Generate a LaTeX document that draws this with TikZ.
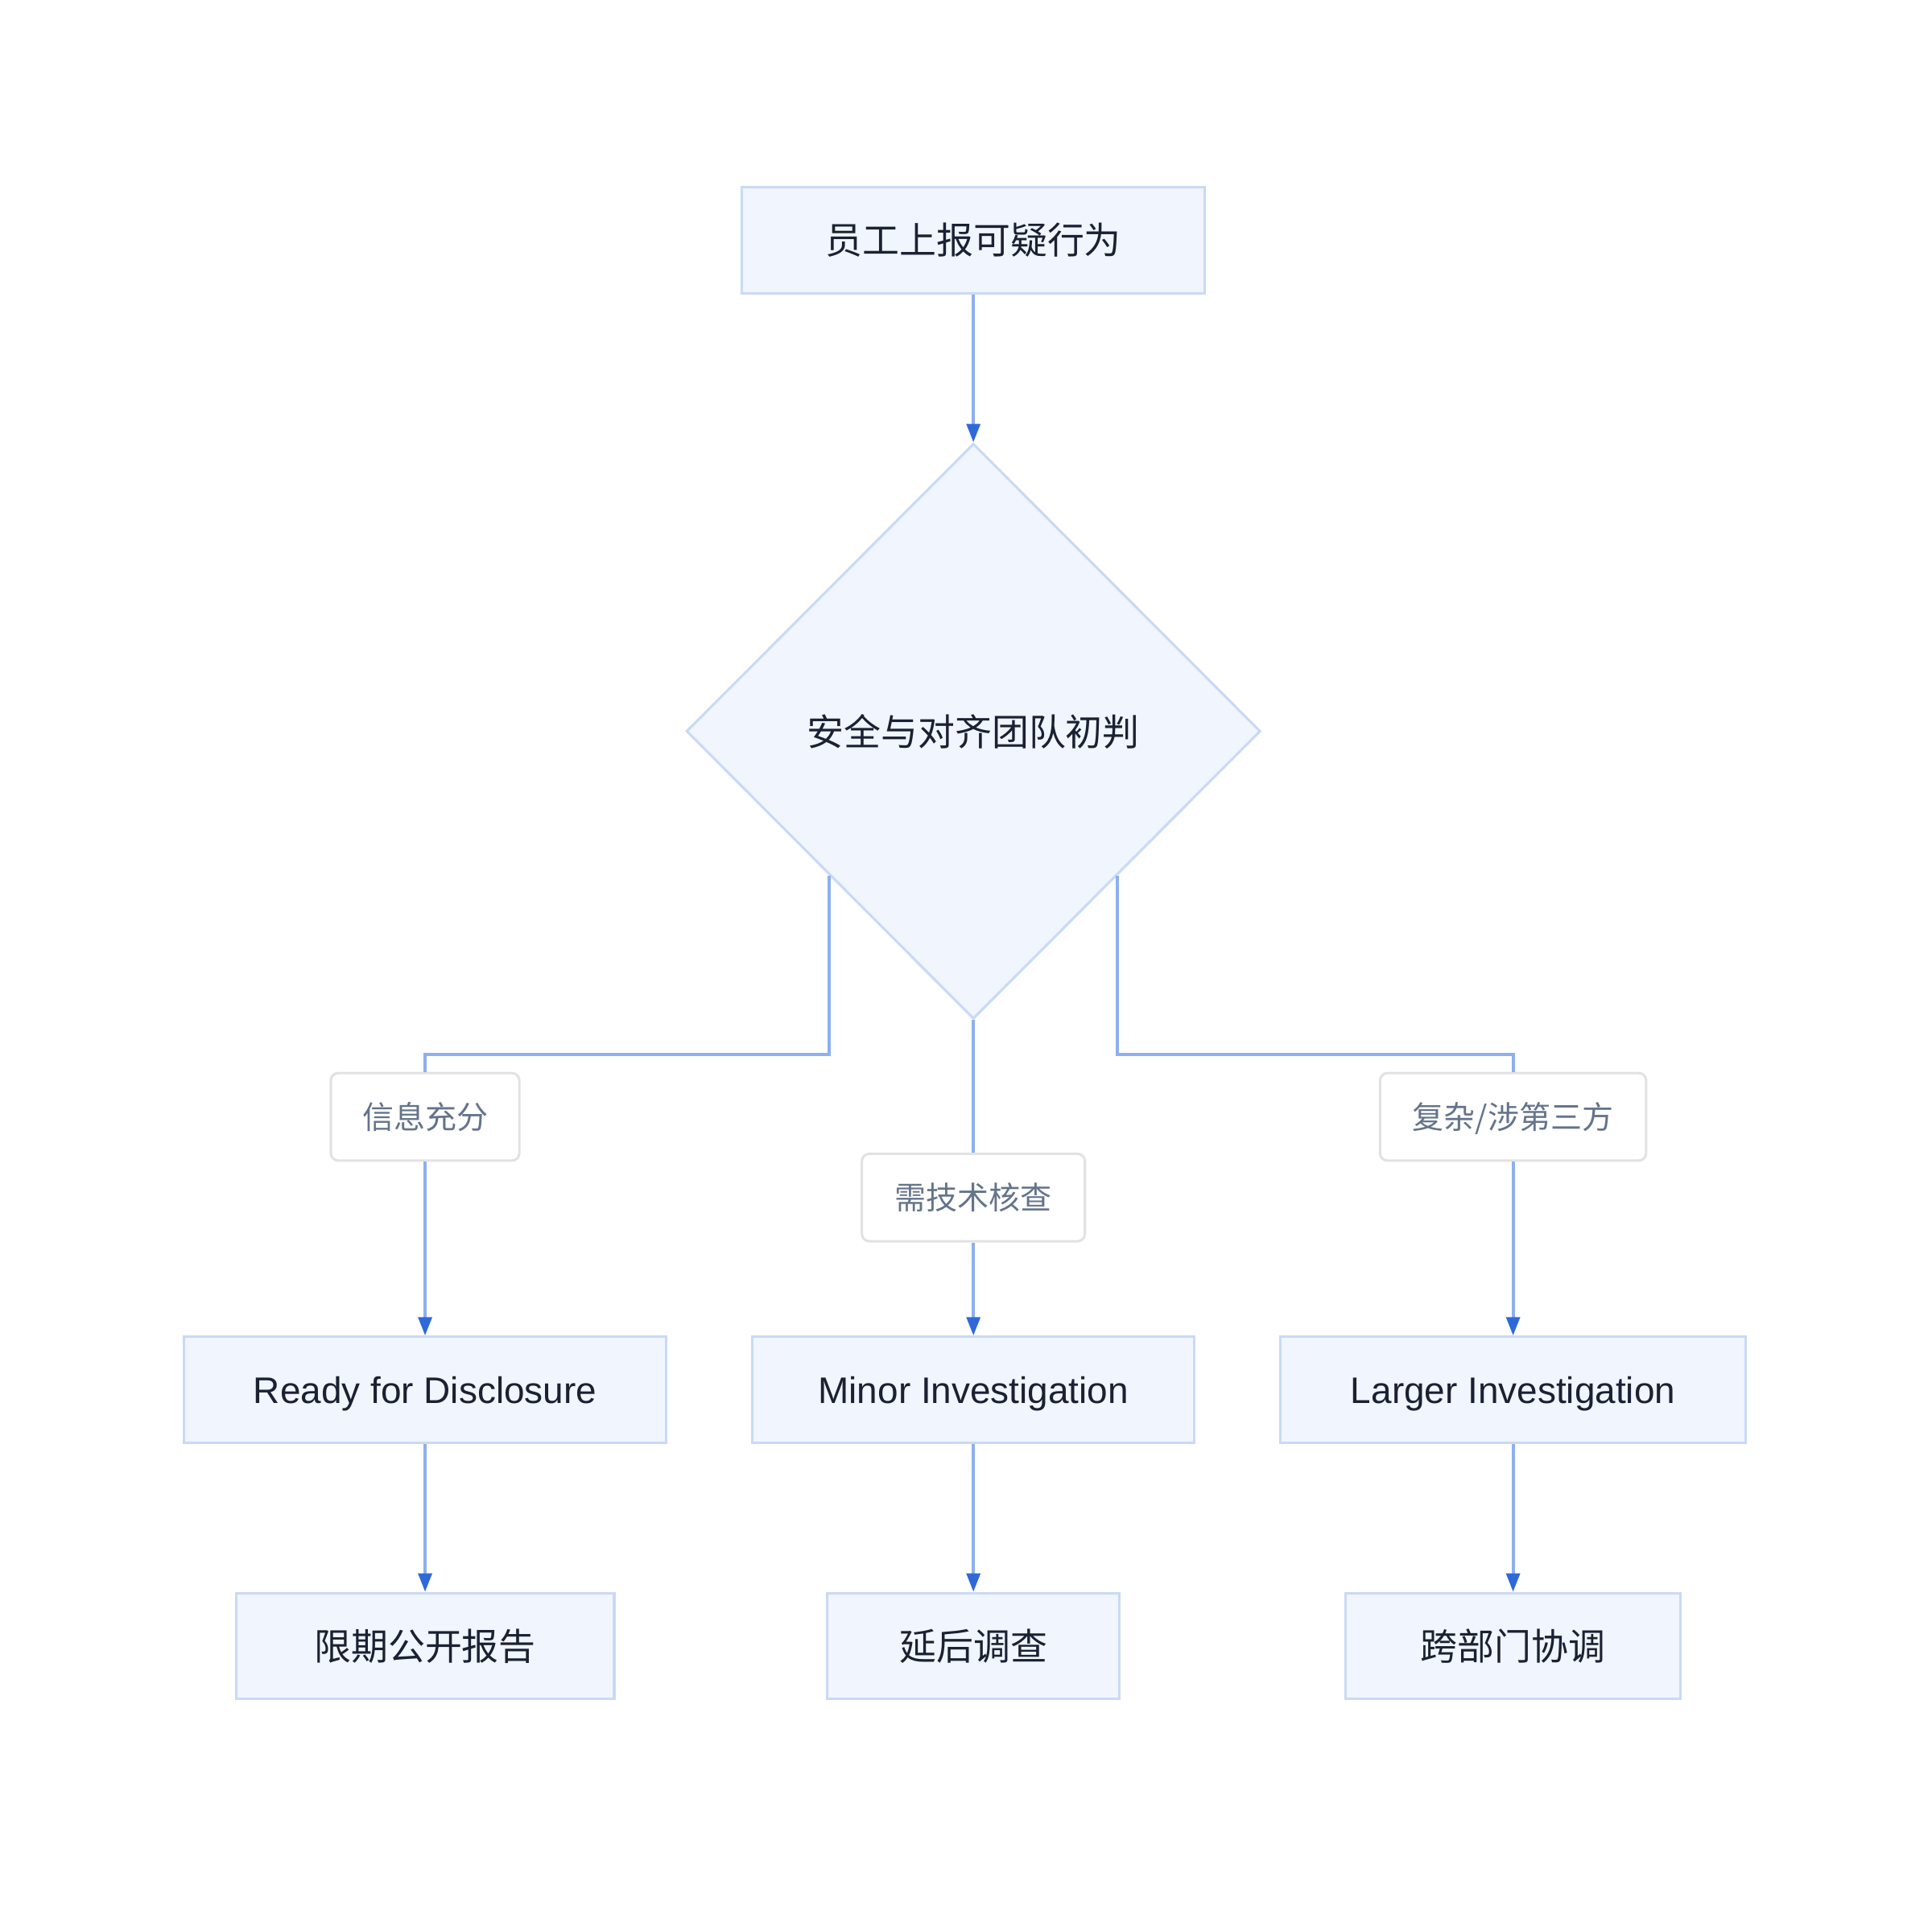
\documentclass[tikz,border=0pt]{standalone}
\usepackage{fontspec}
\setmainfont{Liberation Sans}
\newfontfamily\cjk{Noto Sans CJK SC}
\usetikzlibrary{positioning,shapes.geometric,arrows.meta}

\definecolor{boxfill}{HTML}{F0F5FE}
\definecolor{boxline}{HTML}{C9DAF5}
\definecolor{flowline}{HTML}{8DB0EE}
\definecolor{flowhead}{HTML}{2F69D9}
\definecolor{tagline}{HTML}{E2E2E2}
\definecolor{tagtext}{HTML}{64748B}
\definecolor{ink}{HTML}{1B2132}

\tikzset{
    proc/.style={rectangle, draw=boxline, fill=boxfill, line width=2pt, minimum height=86pt, inner xsep=0pt, text=ink, font=\fontsize{30}{36}\selectfont, text height=27pt, text depth=4.5pt},
    decision/.style={diamond, draw=boxline, fill=boxfill, line width=2pt, minimum width=466pt, minimum height=467pt, inner sep=0pt, text=ink, font=\fontsize{30}{36}\selectfont},
    tag/.style={rectangle, rounded corners=6pt, draw=tagline, fill=white, line width=2pt, minimum height=71pt, inner xsep=0pt, text=tagtext, font=\fontsize{25.5}{30}\selectfont, text height=23pt, text depth=3.8pt},
    flow/.style={draw=flowline, line width=2.5pt},
    flowarrow/.style={flow, -{Triangle[length=15pt,width=11pt,color=flowhead]}}
}

\begin{document}
\begin{tikzpicture}[x=1pt, y=1pt]
    \useasboundingbox (0,0) rectangle (1568,-1564);
    \node [proc, minimum width=376pt] (report) at (790,-195) {\cjk 员工上报可疑行为};
        \node [decision, below=120pt of report] (triage) {\cjk 安全与对齐团队初判};

    \node [tag, minimum width=153pt] (enough) at (345,-906.5) {\cjk 信息充分};
    \node [tag, minimum width=181pt] (tech) at (790,-972) {\cjk 需技术核查};
    \node [tag, minimum width=216pt] (complex) at (1228,-906.5) {\cjk 复杂/涉第三方};

    \node [proc, minimum width=391pt] (ready) at (345,-1128) {Ready for Disclosure};
    \node [proc, minimum width=359pt] (minor) at (790,-1128) {Minor Investigation};
    \node [proc, minimum width=378pt] (larger) at (1228,-1128) {Larger Investigation};

    \node [proc, minimum width=307pt, below=120pt of ready] (publish) {\cjk 限期公开报告};
    \node [proc, minimum width=237pt, below=120pt of minor] (defer) {\cjk 延后调查};
    \node [proc, minimum width=272pt, below=120pt of larger] (crossdept) {\cjk 跨部门协调};

    \draw [flowarrow] (report) -- (triage);
    % branches leave the diamond, bend, then pass through their labels
    \draw [flow] (triage.south west) -- ++(0,-145) -| (enough.north);
    \draw [flow] (triage.south) -- (tech.north);
    \draw [flow] (triage.south east) -- ++(0,-145) -| (complex.north);
    \draw [flowarrow] (enough) -- (ready);
    \draw [flowarrow] (tech) -- (minor);
    \draw [flowarrow] (complex) -- (larger);

    \draw [flowarrow] (ready) -- (publish);
    \draw [flowarrow] (minor) -- (defer);
    \draw [flowarrow] (larger) -- (crossdept);
\end{tikzpicture}
\end{document}
